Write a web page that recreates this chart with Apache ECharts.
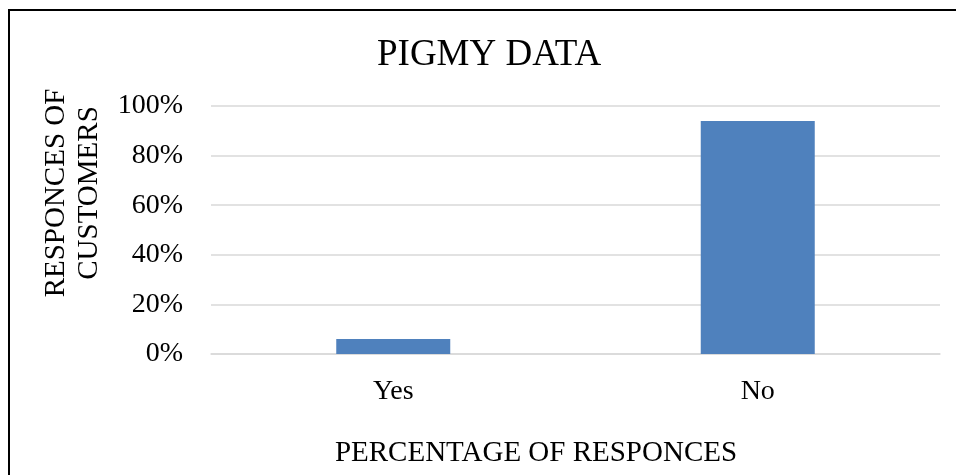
<!DOCTYPE html>
<html>
<head>
<meta charset="utf-8">
<script src="https://cdn.jsdelivr.net/npm/echarts@6/dist/echarts.min.js"></script>
<style>
  html, body { margin: 0; padding: 0; background: #fff; }
  #chart { width: 956px; height: 475px; }
</style>
</head>
<body>
<div id="chart"></div>
<script>
// Survey responses: share of customers using the pigmy deposit scheme
const categories = ['Yes', 'No'];
const responseShare = [6, 94];          // percent of respondents
const yTicks = [0, 20, 40, 60, 80, 100]; // percent scale

const serif = '"Liberation Serif", "Times New Roman", serif';
const chart = echarts.init(document.getElementById('chart'), null, { renderer: 'canvas' });

chart.setOption({
  backgroundColor: '#ffffff',
  animation: false,
  title: {
    text: 'PIGMY DATA',
    left: 377,
    top: 37,
    padding: 0,
    textStyle: { fontFamily: serif, fontSize: 37, fontWeight: 'normal', color: '#000' }
  },
  graphic: [{
    type: 'rect',
    shape: { x: 9, y: 10, width: 1200, height: 1200 },
    style: { fill: 'none', stroke: '#000', lineWidth: 2 },
    silent: true
  }],
  grid: { left: 211, right: 16, top: 106, bottom: 121 },
  xAxis: {
    type: 'category',
    data: categories,
    name: 'PERCENTAGE OF RESPONCES',
    nameLocation: 'middle',
    nameGap: 85,
    nameTextStyle: { fontFamily: serif, fontSize: 29, color: '#000', padding: [0, 79, 0, 0] },
    axisLine: { show: true, lineStyle: { color: '#d9d9d9', width: 1.5 } },
    axisTick: { show: false },
    axisLabel: { fontFamily: serif, fontSize: 28, color: '#000', margin: 24 }
  },
  yAxis: {
    type: 'value',
    min: yTicks[0],
    max: yTicks[yTicks.length - 1],
    interval: yTicks[1] - yTicks[0],
    name: 'RESPONCES OF\nCUSTOMERS',
    nameLocation: 'middle',
    nameRotate: 90,
    nameGap: 105,
    nameTextStyle: { fontFamily: serif, fontSize: 29, lineHeight: 33, color: '#000', padding: [0, 0, 0, 74] },
    axisLine: { show: false },
    axisTick: { show: false },
    splitLine: { lineStyle: { color: '#d9d9d9', width: 1.5 } },
    axisLabel: { fontFamily: serif, fontSize: 28, color: '#000', margin: 28, formatter: '{value}%' }
  },
  series: [{
    type: 'bar',
    data: responseShare,
    barWidth: 114,
    itemStyle: { color: '#4f81bd' }
  }]
});
</script>
</body>
</html>
